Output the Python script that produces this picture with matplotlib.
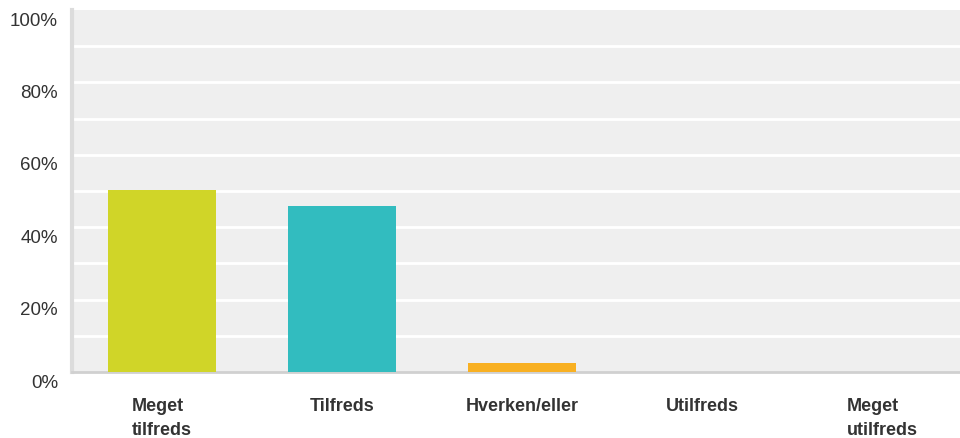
import matplotlib.pyplot as plt
import matplotlib.transforms as mtransforms
import numpy as np

categories = ['Meget\ntilfreds', 'Tilfreds', 'Hverken/eller', 'Utilfreds', 'Meget\nutilfreds']
values = [50.4, 45.8, 2.5, 0, 0]
colors = ['#d0d528', '#32bcbf', '#f8b022', '#7f7f7f', '#7f7f7f']
yticks = [0, 20, 40, 60, 80, 100]
gridlines = [10, 20, 30, 40, 50, 60, 70, 80, 90]

plt.rcParams['font.family'] = ['Liberation Sans', 'DejaVu Sans']

fig = plt.figure(figsize=(9.6, 4.38), dpi=100)
ax = fig.add_axes([72 / 960, 1 - 372 / 438, 900 / 960, 362 / 438])
ax.set_facecolor('#efefef')

x = np.arange(len(categories))
ax.bar(x, values, width=0.605, color=colors, zorder=3)

# white gridlines every 10 %, none on the top edge
for g in gridlines:
    ax.axhline(g, color='white', linewidth=2, zorder=1)

ax.set_xlim(-0.5, len(categories) - 0.5)
ax.set_ylim(0, 100)
ax.set_yticks(yticks)
ax.tick_params(axis='y', which='both', length=0)
ax.tick_params(axis='y', labelsize=13.5, labelcolor='#333333', pad=10)
ax.set_yticklabels(['{}%'.format(t) for t in yticks])
# labels sit a bit below their gridline
off = mtransforms.ScaledTranslation(0, -9 / 100, fig.dpi_scale_trans)
for lbl in ax.get_yticklabels():
    lbl.set_transform(lbl.get_transform() + off)

ax.set_xticks([])
for xi, name in zip(x, categories):
    ax.annotate(name, xy=(xi, 0), xycoords=('data', 'axes fraction'),
                xytext=(0, -26), textcoords='offset pixels',
                ha='center', va='top', multialignment='left',
                fontsize=13, fontweight='bold', color='#333333', linespacing=1.55)

for side in ['top', 'right']:
    ax.spines[side].set_visible(False)
ax.spines['left'].set_color('#dcdcdc')
ax.spines['left'].set_linewidth(3)
ax.spines['bottom'].set_color('#d0d0d0')
ax.spines['bottom'].set_linewidth(2)

fig.savefig('out.png', dpi=100)
